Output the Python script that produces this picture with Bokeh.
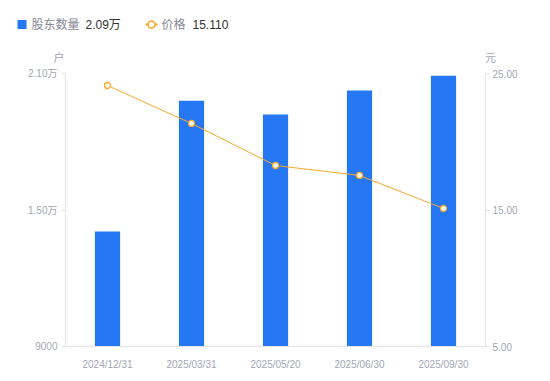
from bokeh.plotting import figure
from bokeh.models import (Range1d, LinearAxis, FixedTicker, NumeralTickFormatter,
                          FactorRange, ColumnDataSource)
from bokeh.core.properties import value
from bokeh.embed import file_html
from bokeh.resources import INLINE

dates = ["2024/12/31", "2025/03/31", "2025/05/20", "2025/06/30", "2025/09/30"]
holders = [14050, 19800, 19200, 20250, 20900]
price = [24.12, 21.34, 18.26, 17.53, 15.11]

left_ticks = [9000, 15000, 21000]
left_tick_labels = ["9000", "1.50万", "2.10万"]
right_ticks = [5, 15, 25]

legend_names = ["股东数量", "价格"]
legend_values = ["2.09万", "15.110"]
units = ["户", "元"]

FONT = "Liberation Sans, Noto Sans CJK SC"
BLUE = "#2577F3"
ORANGE = "#F7A82A"
AXIS = "#E3E4E8"
TICKTXT = "#A3A6B6"

W = 550
HEAD = 63          # height of the header strip (legend + unit labels)
FL, FW, FH = 65, 420, 273

# ---------------- header strip (legend and axis unit labels) ----------------
h = figure(width=W, height=HEAD, x_range=Range1d(0, W), y_range=Range1d(HEAD, 0),
           x_axis_type=None, y_axis_type=None, min_border=0,
           output_backend="svg", toolbar_location=None)
h.outline_line_color = None
h.grid.visible = False

LY = 24
h.scatter(x=[21.5], y=[LY], marker="square", size=9, fill_color=BLUE, line_color=None)
h.segment(x0=[145], y0=[LY], x1=[157], y1=[LY], line_color=ORANGE, line_width=2)
h.scatter(x=[151], y=[LY], marker="circle", size=7, fill_color="white",
          line_color=ORANGE, line_width=1.6)
h.text(x=[31, 161], y=[LY, LY], text=legend_names, text_font=value(FONT),
       text_font_size="12px", text_color="#858896", text_baseline="middle")
h.text(x=[85, 192], y=[LY, LY], text=legend_values, text_font=value(FONT),
       text_font_size="12px", text_color="#333333", text_baseline="middle")
h.text(x=[58.5, 490], y=[57, 57], text=units, text_font=value(FONT),
       text_font_size="11px", text_color=TICKTXT, text_align="center",
       text_baseline="middle")

# ---------------- main chart ----------------
src = ColumnDataSource(dict(d=dates, h=holders, p=price))

p = figure(x_range=FactorRange(factors=dates, range_padding=0),
           y_range=Range1d(left_ticks[0], left_ticks[-1]),
           frame_width=FW, frame_height=FH,
           min_border_left=FL, min_border_right=W - FL - FW, min_border_top=10,
           min_border_bottom=35,
           output_backend="svg", toolbar_location=None)
p.outline_line_color = None
p.grid.visible = False

p.extra_y_ranges = {"price": Range1d(right_ticks[0], right_ticks[-1])}

p.vbar(x="d", top="h", bottom=left_ticks[0], width=0.3, source=src,
       fill_color=BLUE, line_color=None)
p.line(x="d", y="p", source=src, y_range_name="price",
       line_color=ORANGE, line_width=1)
p.scatter(x="d", y="p", source=src, y_range_name="price",
          size=6, fill_color="white", line_color=ORANGE, line_width=1.3)

xa = p.xaxis[0]
xa.axis_line_color = AXIS
xa.major_tick_line_color = None
xa.minor_tick_line_color = None
xa.major_label_text_font = FONT
xa.major_label_text_font_size = "10px"
xa.major_label_text_color = TICKTXT
xa.major_label_standoff = 6

ya = p.yaxis[0]
ya.ticker = FixedTicker(ticks=left_ticks)
ya.major_label_overrides = {t: l for t, l in zip(left_ticks, left_tick_labels)}
ya.axis_line_color = AXIS
ya.major_tick_line_color = AXIS
ya.major_tick_out = 4
ya.major_tick_in = 0
ya.minor_tick_line_color = None
ya.major_label_text_font = FONT
ya.major_label_text_font_size = "10px"
ya.major_label_text_color = TICKTXT
ya.major_label_standoff = 4

ra = LinearAxis(y_range_name="price", ticker=FixedTicker(ticks=right_ticks),
                formatter=NumeralTickFormatter(format="0.00"))
ra.axis_line_color = AXIS
ra.major_tick_line_color = AXIS
ra.major_tick_out = 4
ra.major_tick_in = 0
ra.minor_tick_line_color = None
ra.major_label_text_font = FONT
ra.major_label_text_font_size = "10px"
ra.major_label_text_color = TICKTXT
ra.major_label_standoff = 3
p.add_layout(ra, "right")

open("out.html", "w").write(file_html([h, p], INLINE))
